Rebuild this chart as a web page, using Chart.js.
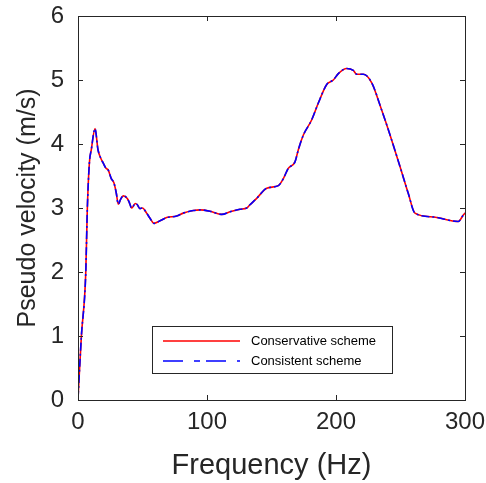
<!DOCTYPE html>
<html>
<head>
<meta charset="utf-8">
<script src="https://cdn.jsdelivr.net/npm/chart.js@4/dist/chart.umd.min.js"></script>
<style>
  html, body { margin: 0; padding: 0; background: #fff; }
  #wrap { width: 486px; height: 483px; position: relative; }
</style>
</head>
<body>
<div id="wrap"><canvas id="velChart"></canvas></div>
<script>
    // data
    const frequencies = [0, 2.6, 6, 7.2, 8.8, 10.3, 13.2, 15.5, 17.6, 19.6, 21.7, 23.5, 25.8, 27.9, 29.7, 31.2,
        33.1, 35.1, 38.2, 39.5, 41.6, 44.4, 46, 48, 50, 53.2, 55.8, 58.9, 63.6, 68.7, 76.5, 81.6, 89.4, 94.6,
        102.3, 111.4, 117.8, 125.6, 130.8, 133.3, 138.5, 146.3, 155.3, 159.2, 163, 168.2, 170.8, 174.7, 181.1,
        186.3, 192.8, 197.9, 201.8, 208.3, 213.4, 216, 221.2, 227.6, 235.4, 241.9, 249.6, 256, 261.2, 275.4,
        294.8, 298.7, 300];
    const conservativeValues = [0.02, 0.99, 1.98, 2.97, 3.70, 3.91, 4.24, 3.91, 3.78, 3.70, 3.62, 3.59, 3.46, 3.39, 3.23, 3.06,
        3.14, 3.19, 3.15, 3.10, 3.00, 3.07, 3.05, 2.99, 3.00, 2.92, 2.84, 2.76, 2.80, 2.85, 2.875, 2.92, 2.96, 2.97,
        2.95, 2.90, 2.94, 2.98, 3.00, 3.05, 3.15, 3.31, 3.35, 3.46, 3.62, 3.72, 3.91, 4.14, 4.375,
        4.64, 4.93, 5.00, 5.10, 5.18, 5.15, 5.09, 5.09, 4.96, 4.53, 4.14, 3.65, 3.23, 2.92, 2.86,
        2.79, 2.89, 2.92];
    const consistentValues = [0.02, 0.99, 1.98, 2.97, 3.70, 3.91, 4.24, 3.91, 3.78, 3.70, 3.62, 3.59, 3.46, 3.39, 3.23, 3.06,
        3.14, 3.19, 3.15, 3.10, 3.00, 3.07, 3.05, 2.99, 3.00, 2.92, 2.84, 2.76, 2.80, 2.85, 2.875, 2.92, 2.96, 2.97,
        2.95, 2.90, 2.94, 2.98, 3.00, 3.05, 3.15, 3.31, 3.35, 3.46, 3.62, 3.72, 3.91, 4.14, 4.375,
        4.64, 4.93, 5.00, 5.10, 5.18, 5.15, 5.09, 5.09, 4.96, 4.53, 4.14, 3.65, 3.23, 2.92, 2.86,
        2.79, 2.89, 2.92];
    const xTicks = [0, 100, 200, 300];
    const yTicks = [0, 1, 2, 3, 4, 5, 6];
    const seriesNames = ['Conservative scheme', 'Consistent scheme'];

    const axisColor = '#262626';
    const fontFamily = '"Liberation Sans", Arial, Helvetica, sans-serif';

    // box round the plot + inward ticks on all four sides
    const boxPlugin = {
        id: 'box',
        afterDatasetsDraw(chart) {
            const { ctx, chartArea: a, scales } = chart;
            ctx.save();
            ctx.strokeStyle = axisColor;
            ctx.lineWidth = 1;
            ctx.strokeRect(Math.round(a.left) + 0.5, Math.round(a.top) + 0.5,
                Math.round(a.right - a.left), Math.round(a.bottom - a.top));
            const len = 5;
            ctx.beginPath();
            xTicks.forEach(v => {
                const px = Math.round(scales.x.getPixelForValue(v)) + 0.5;
                ctx.moveTo(px, a.bottom); ctx.lineTo(px, a.bottom - len);
                ctx.moveTo(px, a.top); ctx.lineTo(px, a.top + len);
            });
            yTicks.forEach(v => {
                const py = Math.round(scales.y.getPixelForValue(v)) + 0.5;
                ctx.moveTo(a.left, py); ctx.lineTo(a.left + len, py);
                ctx.moveTo(a.right, py); ctx.lineTo(a.right - len, py);
            });
            ctx.stroke();
            ctx.restore();
        }
    };

    // legend inside the axes, lower middle
    const innerLegend = {
        id: 'innerLegend',
        afterDraw(chart) {
            const { ctx, chartArea: a } = chart;
            const x0 = a.left + 74, y0 = a.bottom - 74, w = 240, h = 47;
            ctx.save();
            ctx.fillStyle = '#fff';
            ctx.fillRect(x0, y0, w, h);
            ctx.strokeStyle = axisColor;
            ctx.lineWidth = 1;
            ctx.strokeRect(Math.round(x0) + 0.5, Math.round(y0) + 0.5, w, h);
            const rows = [
                { color: '#ff0000', dash: [], y: y0 + 15 },
                { color: '#0000ff', dash: [20, 11, 6, 6], y: y0 + 35 }
            ];
            rows.forEach((r, i) => {
                ctx.beginPath();
                ctx.setLineDash(r.dash);
                ctx.strokeStyle = r.color;
                ctx.lineWidth = 1.3;
                ctx.moveTo(x0 + 11, r.y); ctx.lineTo(x0 + 88, r.y);
                ctx.stroke();
                ctx.setLineDash([]);
                ctx.fillStyle = '#000';
                ctx.font = '13px ' + fontFamily;
                ctx.textBaseline = 'middle';
                ctx.fillText(seriesNames[i], x0 + 99, r.y);
            });
            ctx.restore();
        }
    };

    document.addEventListener('DOMContentLoaded', function () {
        const ctx = document.getElementById('velChart').getContext('2d');

        new Chart(ctx, {
            type: 'line',
            data: {
                datasets: [{
                    label: seriesNames[0],
                    data: frequencies.map((f, i) => ({ x: f, y: conservativeValues[i] })),
                    borderColor: '#ff0000',
                    borderWidth: 1.6,
                    pointRadius: 0,
                    cubicInterpolationMode: 'monotone',
                    order: 1
                }, {
                    label: seriesNames[1],
                    data: frequencies.map((f, i) => ({ x: f, y: consistentValues[i] })),
                    borderColor: '#0000ff',
                    borderWidth: 1.6,
                    borderDash: [8, 3, 2, 3],
                    pointRadius: 0,
                    cubicInterpolationMode: 'monotone',
                    order: 0
                }]
            },
            options: {
                responsive: true,
                maintainAspectRatio: false,
                animation: false,
                layout: { padding: { top: 16, right: 21, left: 13, bottom: 0 } },
                scales: {
                    x: {
                        type: 'linear',
                        min: 0, max: 300,
                        afterBuildTicks: s => { s.ticks = xTicks.map(v => ({ value: v })); },
                        afterFit: s => { s.height = 83; s.paddingLeft = 0; s.paddingRight = 0; },
                        grid: { display: false, drawTicks: false },
                        border: { display: false },
                        ticks: { color: axisColor, font: { size: 24, family: fontFamily }, padding: 8, maxRotation: 0 },
                        title: { display: true, text: 'Frequency (Hz)', color: axisColor, font: { size: 29, family: fontFamily }, padding: { top: 0, bottom: 0 } }
                    },
                    y: {
                        min: 0, max: 6,
                        afterBuildTicks: s => { s.ticks = yTicks.map(v => ({ value: v })); },
                        afterFit: s => { s.width = 65; s.paddingTop = 0; s.paddingBottom = 0; },
                        grid: { display: false, drawTicks: false },
                        border: { display: false },
                        ticks: { color: axisColor, font: { size: 24, family: fontFamily }, padding: 14 },
                        title: { display: true, text: 'Pseudo velocity (m/s)', color: axisColor, font: { size: 25, family: fontFamily }, padding: { top: 0, bottom: 0 } }
                    }
                },
                plugins: {
                    legend: { display: false },
                    tooltip: { enabled: false }
                }
            },
            plugins: [boxPlugin, innerLegend]
        });
    });
</script>
</body>
</html>
